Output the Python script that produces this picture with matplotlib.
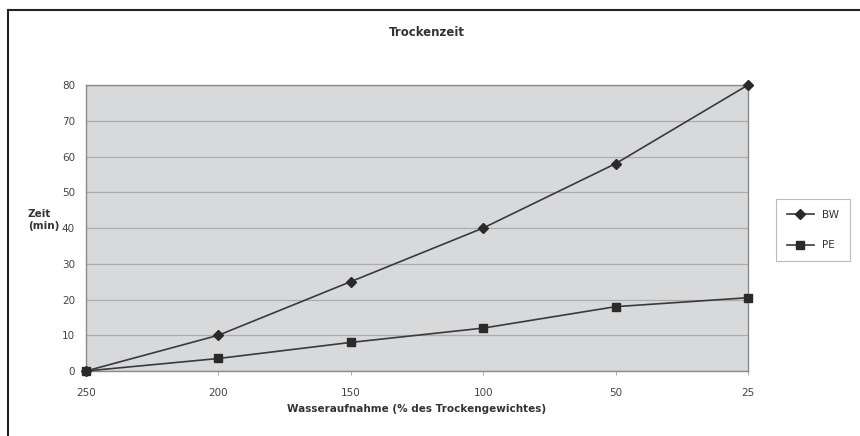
import matplotlib
matplotlib.use("Agg")
import matplotlib.pyplot as plt
from matplotlib.lines import Line2D

# data
categories = ["250", "200", "150", "100", "50", "25"]
bw = [0, 10, 25, 40, 58, 80]
pe = [0, 3.5, 8, 12, 18, 20.5]
y_ticks = [0, 10, 20, 30, 40, 50, 60, 70, 80]

W, H = 860, 436
fig = plt.figure(figsize=(W / 100, H / 100), dpi=100)
fig.patch.set_facecolor("white")

# plot area in pixels: left 86, right 748, top 85, bottom 371
ax = fig.add_axes([86 / W, 1 - 371 / H, (748 - 86) / W, (371 - 85) / H])
ax.set_facecolor("#d8d9db")

x = list(range(len(categories)))
ax.plot(x, bw, color="#3a3a3a", lw=1.2, marker="D", ms=5, mfc="#2a2a2a",
        mec="#2a2a2a", label="BW", clip_on=False, zorder=3)
ax.plot(x, pe, color="#3a3a3a", lw=1.2, marker="s", ms=5.5, mfc="#2a2a2a",
        mec="#2a2a2a", label="PE", clip_on=False, zorder=3)

ax.set_xlim(0, len(categories) - 1)
ax.set_ylim(0, 80)
ax.set_yticks(y_ticks)
ax.set_xticks(x)
ax.set_xticklabels(categories)
ax.yaxis.grid(True, color="#acacac", lw=0.9)
ax.set_axisbelow(True)
for s in ax.spines.values():
    s.set_color("#8a8a8a")
    s.set_linewidth(1.0)
ax.tick_params(axis="both", colors="#a0a0a0", labelcolor="#444444",
               labelsize=7.5, length=3, width=0.6)
ax.tick_params(axis="x", pad=9)
ax.tick_params(axis="y", pad=8, length=0)

fig.text(427 / W, 1 - 32 / H, "Trockenzeit", ha="center", va="center",
         fontsize=8.5, fontweight="bold", color="#333333")
fig.text(28 / W, 1 - 220 / H, "Zeit\n(min)", ha="left", va="center",
         fontsize=7.5, fontweight="bold", color="#333333", linespacing=1.3)
fig.text(417 / W, 1 - 409 / H, "Wasseraufnahme (% des Trockengewichtes)",
         ha="center", va="center", fontsize=7.5, fontweight="bold", color="#333333")

leg = fig.legend(loc="center", bbox_to_anchor=(813 / W, 1 - 230 / H),
                 fontsize=7.5, frameon=True, fancybox=False, handlelength=2.6,
                 borderpad=1.0, labelspacing=2.0)
leg.get_frame().set_edgecolor("#aaaaaa")
leg.get_frame().set_linewidth(0.8)
for t in leg.get_texts():
    t.set_color("#333333")

# outer frame (top and left edges only visible)
fig.add_artist(Line2D([8 / W, 1], [1 - 10 / H, 1 - 10 / H], color="#222222",
                      lw=1.5, transform=fig.transFigure))
fig.add_artist(Line2D([8 / W, 8 / W], [1 - 10 / H, 0], color="#222222",
                      lw=1.5, transform=fig.transFigure))

fig.savefig("out.png", dpi=100, facecolor="white")
